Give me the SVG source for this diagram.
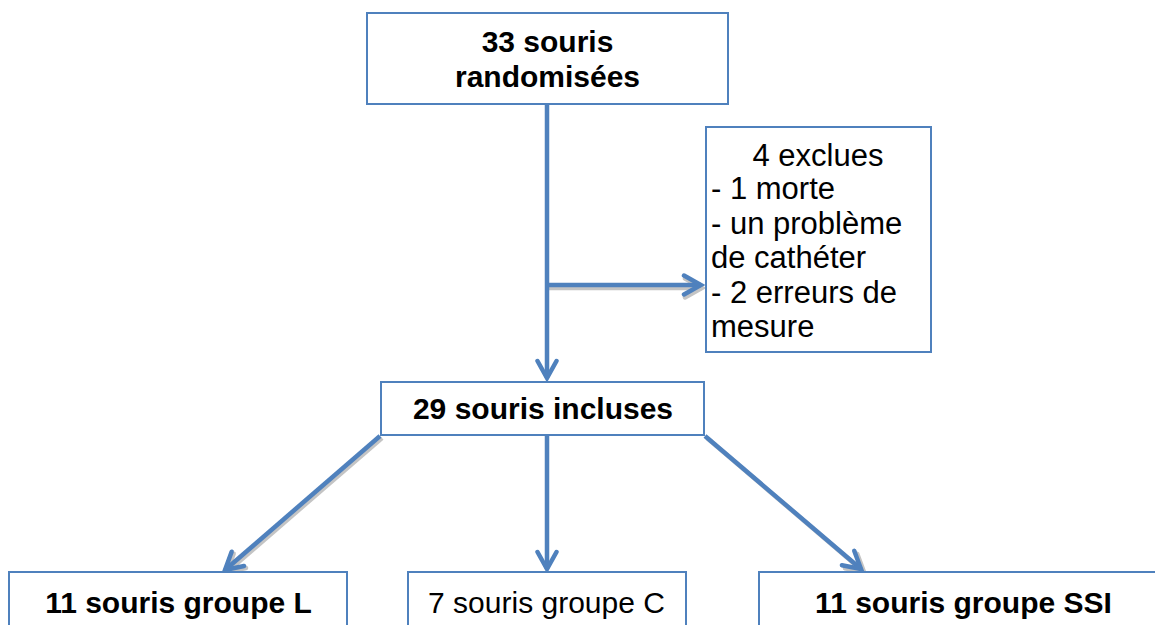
<svg xmlns="http://www.w3.org/2000/svg" width="1155" height="625" viewBox="0 0 1155 625">
<style>
.box{fill:#fff;stroke:#4F81BD;stroke-width:2}
.t{font-family:"Liberation Sans",Arial,sans-serif;font-size:30px;fill:#000}
.x{font-size:31px}
.b{font-weight:bold}
.c{text-anchor:middle}
.ln{stroke:#4F81BD;stroke-width:4.5;fill:none}
.sh{stroke:#c4c4c4;stroke-width:4.5;fill:none}
</style>
<defs>
<marker id="ah" viewBox="-22 -12 26 24" refX="0" refY="0" markerWidth="26" markerHeight="24" markerUnits="userSpaceOnUse" orient="auto">
<path d="M -17 -9.5 L 0 0 L -17 9.5" fill="none" stroke="#4F81BD" stroke-width="4.5" stroke-linecap="round" stroke-linejoin="miter"/>
</marker>
<marker id="ahs" viewBox="-22 -12 26 24" refX="0" refY="0" markerWidth="26" markerHeight="24" markerUnits="userSpaceOnUse" orient="auto">
<path d="M -17 -9.5 L 0 0 L -17 9.5" fill="none" stroke="#c4c4c4" stroke-width="4.5" stroke-linecap="round"/>
</marker>
</defs>
<g id="connectors">
<line class="sh" x1="549" y1="288" x2="702" y2="288" marker-end="url(#ahs)"/>
<line class="sh" x1="382" y1="438" x2="227" y2="572" marker-end="url(#ahs)"/>
<line class="sh" x1="707" y1="438" x2="864" y2="572" marker-end="url(#ahs)"/>
<line class="ln" x1="547" y1="104" x2="547" y2="378" marker-end="url(#ah)"/>
<line class="ln" x1="547" y1="285" x2="701" y2="285" marker-end="url(#ah)"/>
<line class="ln" x1="380" y1="436" x2="225" y2="570" marker-end="url(#ah)"/>
<line class="ln" x1="547" y1="436" x2="547" y2="569" marker-end="url(#ah)"/>
<line class="ln" x1="705" y1="436" x2="861" y2="569" marker-end="url(#ah)"/>
</g>
<g id="n-randomisees">
<rect class="box" x="367" y="13" width="361" height="91"/>
<text class="t b c" x="547.5" y="52">33 souris</text>
<text class="t b c" x="547.5" y="87">randomisées</text>
</g>
<g id="n-exclues">
<rect class="box" x="706" y="127" width="225" height="225"/>
<text class="t x c" x="818" y="166">4 exclues</text>
<text class="t x" x="711" y="199">- 1 morte</text>
<text class="t x" x="711" y="234">- un problème</text>
<text class="t x" x="711" y="268">de cathéter</text>
<text class="t x" x="711" y="303">- 2 erreurs de</text>
<text class="t x" x="711" y="337">mesure</text>
</g>
<g id="n-incluses">
<rect class="box" x="381" y="382" width="323" height="53"/>
<text class="t b c" x="543" y="419">29 souris incluses</text>
</g>
<g id="n-groupeL">
<rect class="box" x="9" y="572" width="338" height="70"/>
<text class="t b c" x="178.5" y="613">11 souris groupe L</text>
</g>
<g id="n-groupeC">
<rect class="box" x="408" y="572" width="278" height="70"/>
<text class="t c" x="546.5" y="613">7 souris groupe C</text>
</g>
<g id="n-groupeSSI">
<rect class="box" x="759" y="572" width="420" height="70"/>
<text class="t b c" x="963.5" y="613">11 souris groupe SSI</text>
</g>
</svg>
